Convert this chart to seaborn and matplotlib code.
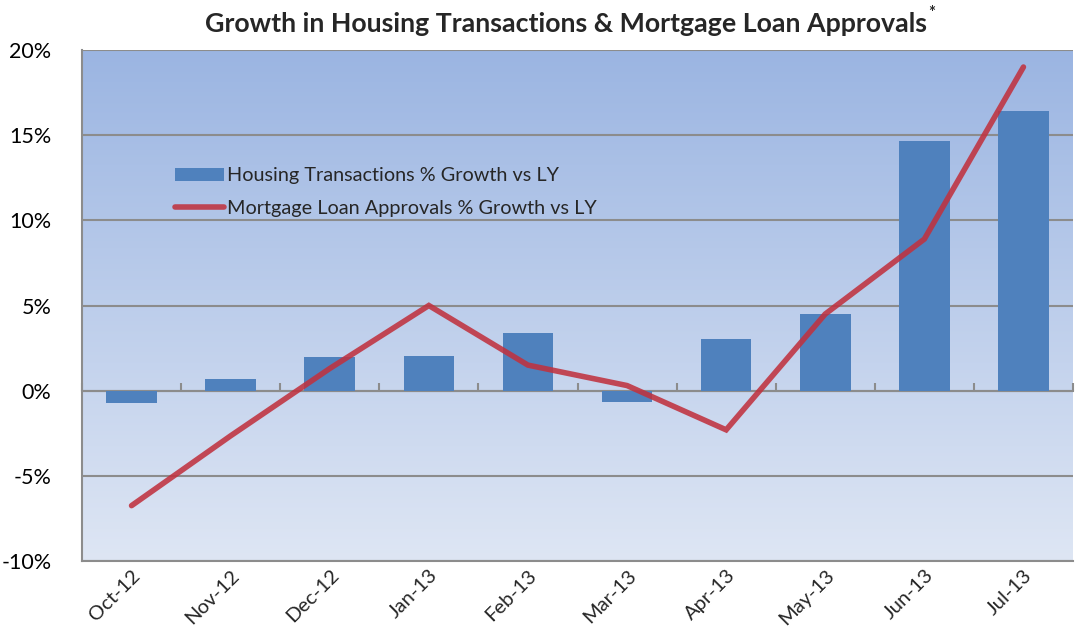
import numpy as np
import pandas as pd
import matplotlib
matplotlib.use('Agg')
import matplotlib.pyplot as plt
import seaborn as sns
from matplotlib.ticker import FuncFormatter, MultipleLocator, FixedLocator

months = ['Oct-12', 'Nov-12', 'Dec-12', 'Jan-13', 'Feb-13',
          'Mar-13', 'Apr-13', 'May-13', 'Jun-13', 'Jul-13']
housing_growth = [-0.7, 0.7, 2.0, 2.05, 3.4, -0.65, 3.05, 4.5, 14.65, 16.4]
mortgage_growth = [-6.75, -2.65, 1.3, 5.0, 1.5, 0.3, -2.3, 4.5, 8.9, 19.0]
bar_label = 'Housing Transactions % Growth vs LY'
line_label = 'Mortgage Loan Approvals % Growth vs LY'

df = pd.DataFrame({'month': months, 'pos': np.arange(len(months)),
                   'housing': housing_growth, 'mortgage': mortgage_growth})

sns.set_style('white')
plt.rcParams['font.family'] = ['Lato', 'DejaVu Sans']

fig = plt.figure(figsize=(10.76, 6.32), dpi=100)
ax = fig.add_axes([82 / 1076, 71 / 632, 991 / 1076, 511 / 632])

# gradient background of the plot area
grad = np.linspace(0, 1, 256).reshape(-1, 1)
top = np.array([0x9B, 0xB5, 0xE2]) / 255
bot = np.array([0xDE, 0xE6, 0xF4]) / 255
img = top + (bot - top) * grad[..., None]
ax.imshow(img, extent=[0, 1, 0, 1], transform=ax.transAxes, aspect='auto', zorder=0)

sns.barplot(data=df, x='month', y='housing', color='#4F81BD', width=0.51,
            saturation=1, ax=ax, label=bar_label, zorder=2, linewidth=0)
sns.lineplot(data=df, x='pos', y='mortgage', color='#C0323F', alpha=0.88,
             linewidth=4.0, ax=ax, label=line_label, zorder=3,
             solid_capstyle='round', solid_joinstyle='miter')

ax.set_xlim(-0.5, len(months) - 0.5)
ax.set_ylim(-10, 20)
ax.yaxis.set_major_locator(MultipleLocator(5))
ax.yaxis.set_major_formatter(FuncFormatter(lambda v, p: f'{v:.0f}%'))
ax.grid(axis='y', color='#8C8C8C', linewidth=1.5, zorder=1)
ax.set_axisbelow(True)
ax.set_xlabel('')
ax.set_ylabel('')

for side in ['top', 'right']:
    ax.spines[side].set_visible(False)
for side in ['left', 'bottom']:
    ax.spines[side].set_color('#8C8C8C')
    ax.spines[side].set_linewidth(1.5)

ax.tick_params(axis='y', length=0, labelsize=15.5, pad=22, labelcolor='black')
ax.tick_params(axis='x', length=0, labelsize=14.5, pad=4)
ax.set_xticks(range(len(months)))
ax.set_xticklabels(months, rotation=45, ha='right', rotation_mode='anchor')

# category axis crossing at zero, with tick marks between categories
zero_frac = (0 - (-10)) / 30
sec = ax.secondary_xaxis(zero_frac)
sec.spines['bottom'].set_color('#8C8C8C')
sec.spines['bottom'].set_linewidth(1.5)
sec.xaxis.set_major_locator(FixedLocator(np.arange(-0.5, len(months), 1)))
sec.tick_params(axis='x', direction='in', length=6, width=1.5, color='#8C8C8C',
                labelbottom=False)

handles, labels = ax.get_legend_handles_labels()
order = [labels.index(bar_label), labels.index(line_label)]
leg = ax.legend([handles[i] for i in order], [labels[i] for i in order],
                loc='upper left', bbox_to_anchor=(0.0835, 0.79), frameon=False,
                fontsize=14.3, handlelength=2.5, handleheight=0.6, borderpad=0,
                handletextpad=0.15, labelspacing=0.8)

title = fig.text(0.526, 0.962, 'Growth in Housing Transactions & Mortgage Loan Approvals',
                 ha='center', va='center', fontsize=19.3, fontweight='bold')
fig.canvas.draw()
bb = title.get_window_extent()
fig.text(bb.x1 / fig.bbox.width + 0.001, 0.98, '*', ha='left', va='center',
         fontsize=12, fontweight='bold')

fig.savefig('out.png', dpi=100)
